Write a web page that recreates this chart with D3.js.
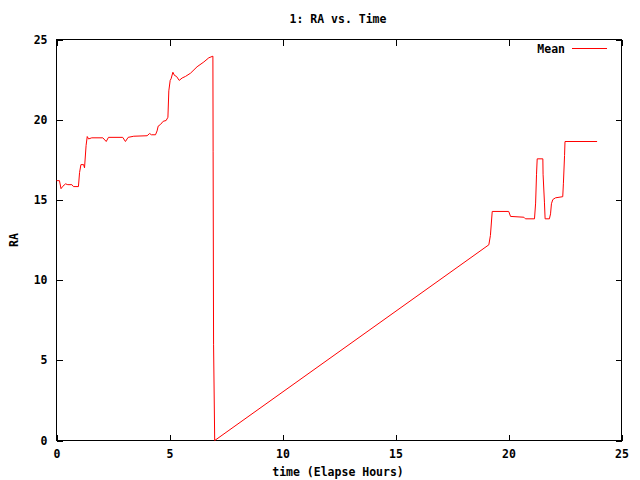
<!DOCTYPE html>
<html>
<head>
<style>
  body { margin: 0; background: #fff; }
  svg text { font-family: "DejaVu Sans Mono", monospace; font-size: 11.5px; font-weight: bold; fill: #000; }
  .axis path { display: none; }
  .axis line { stroke: #000; shape-rendering: crispEdges; }
</style>
</head>
<body>
<script src="https://d3js.org/d3.v7.min.js"></script>
<script>
// elapsed hours vs RA (Mean)
const hours = [0, 0.13, 0.2, 0.28, 0.4, 0.5, 0.68, 0.75, 0.97, 1.02, 1.08, 1.2, 1.24, 1.31, 1.36, 1.42,
  1.56, 2.05, 2.2, 2.3, 2.93, 3.05, 3.17, 3.42, 4.01, 4.12, 4.2, 4.38, 4.45, 4.5, 4.6, 4.72, 4.85,
  4.93, 4.97, 5.03, 5.07, 5.15, 5.22, 5.31, 5.43, 5.56, 5.71, 5.93, 6.22, 6.52, 6.74, 6.92,
  6.93, 6.95, 7.0, 19.13, 19.2, 19.28, 20.01, 20.09, 20.68, 20.75, 21.15, 21.2, 21.24, 21.27,
  21.52, 21.53, 21.59, 21.62, 21.81, 21.86, 21.9, 21.96, 22.08, 22.4, 22.43, 22.48, 22.5, 23.92];
const raMean = [16.2, 16.2, 15.7, 15.85, 16.0, 15.95, 15.95, 15.83, 15.83, 16.7, 17.2, 17.2, 17.0, 18.4, 18.95, 18.8,
  18.87, 18.87, 18.64, 18.9, 18.9, 18.64, 18.9, 18.97, 19.0, 19.14, 19.06, 19.06, 19.3, 19.6, 19.7, 19.9, 19.95,
  20.15, 21.8, 22.45, 22.55, 22.96, 22.76, 22.7, 22.45, 22.6, 22.7, 22.9, 23.3, 23.6, 23.86, 23.96,
  18.0, 6.0, 0.0, 12.2, 12.78, 14.28, 14.28, 13.97, 13.92, 13.82, 13.82, 14.8, 16.6, 17.56,
  17.56, 16.6, 14.86, 13.82, 13.82, 14.13, 14.76, 15.02, 15.13, 15.2, 16.04, 17.77, 18.64, 18.64];
const xTicks = [0, 5, 10, 15, 20, 25];
const yTicks = [0, 5, 10, 15, 20, 25];

const width = 640, height = 480;
const plotLeft = 56, plotRight = 621, plotTop = 39, plotBottom = 440;

const svg = d3.select('body').append('svg')
  .attr('width', width)
  .attr('height', height);

const x = d3.scaleLinear().domain([0, 25]).range([plotLeft, plotRight]);
const y = d3.scaleLinear().domain([0, 25]).range([plotBottom, plotTop]);

const data = hours.map((h, i) => ({ h: h, v: raMean[i] }));

// axes with inward ticks, mirrored on top/right like gnuplot
svg.append('g').attr('class', 'axis')
  .attr('transform', `translate(0.5,${plotBottom + 0.5})`)
  .call(d3.axisBottom(x).tickValues(xTicks).tickSize(-6).tickPadding(9).tickFormat(d3.format('d')));
svg.append('g').attr('class', 'axis')
  .attr('transform', `translate(0.5,${plotTop + 0.5})`)
  .call(d3.axisTop(x).tickValues(xTicks).tickSize(-6).tickFormat(''));
svg.append('g').attr('class', 'axis')
  .attr('transform', `translate(${plotLeft + 0.5},0.5)`)
  .call(d3.axisLeft(y).tickValues(yTicks).tickSize(-6).tickPadding(9).tickFormat(d3.format('d')));
svg.append('g').attr('class', 'axis')
  .attr('transform', `translate(${plotRight + 0.5},0.5)`)
  .call(d3.axisRight(y).tickValues(yTicks).tickSize(-6).tickFormat(''));

svg.selectAll('.axis').attr('font-family', null).attr('font-size', null);

// border
svg.append('rect')
  .attr('x', plotLeft + 0.5).attr('y', plotTop + 0.5)
  .attr('width', plotRight - plotLeft).attr('height', plotBottom - plotTop)
  .attr('fill', 'none').attr('stroke', '#000')
  .attr('shape-rendering', 'crispEdges');

// series
const line = d3.line().x(d => x(d.h) + 0.5).y(d => y(d.v) + 0.5);
svg.append('path')
  .datum(data)
  .attr('d', line)
  .attr('fill', 'none')
  .attr('stroke', '#ff0000')
  .attr('stroke-width', 1);

// legend
svg.append('text').attr('x', 565).attr('y', 53).attr('text-anchor', 'end').text('Mean');
svg.append('line')
  .attr('x1', 572).attr('x2', 607).attr('y1', 48.5).attr('y2', 48.5)
  .attr('stroke', '#ff0000').attr('shape-rendering', 'crispEdges');

// titles
svg.append('text').attr('x', 338).attr('y', 23).attr('text-anchor', 'middle').text('1: RA vs. Time');
svg.append('text').attr('x', 338).attr('y', 476).attr('text-anchor', 'middle').text('time (Elapse Hours)');
svg.append('text')
  .attr('transform', 'translate(18,240) rotate(-90)')
  .attr('text-anchor', 'middle')
  .text('RA');
</script>
</body>
</html>
